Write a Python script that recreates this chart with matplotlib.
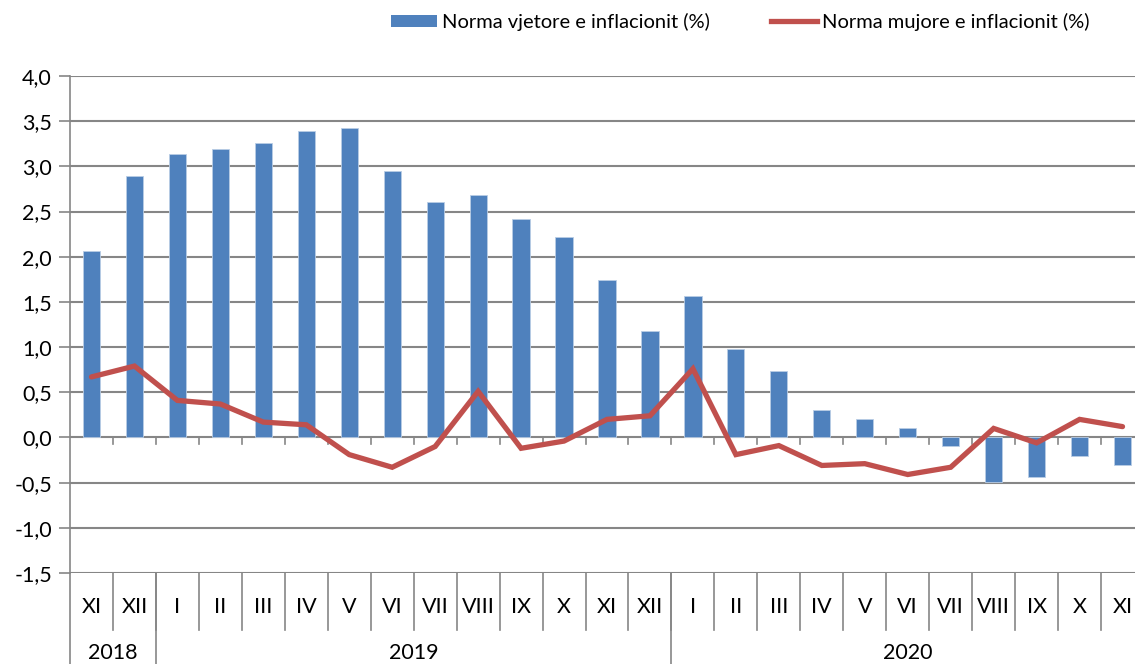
#!/usr/bin/env python3
"""Annual vs monthly inflation rate, XI 2018 - XI 2020."""

import matplotlib

matplotlib.use("Agg")
import matplotlib.pyplot as plt
import numpy as np
from matplotlib.lines import Line2D
from matplotlib.patches import Patch
from matplotlib.ticker import FuncFormatter

months = ["XI", "XII", "I", "II", "III", "IV", "V", "VI", "VII", "VIII", "IX", "X", "XI",
          "XII", "I", "II", "III", "IV", "V", "VI", "VII", "VIII", "IX", "X", "XI"]
years = ["2018", "2019", "2020"]
year_counts = [2, 12, 11]

annual = [2.06, 2.89, 3.14, 3.19, 3.26, 3.39, 3.43, 2.95, 2.61, 2.68, 2.42, 2.22, 1.74,
          1.18, 1.56, 0.98, 0.74, 0.30, 0.20, 0.11, -0.10, -0.49, -0.44, -0.20, -0.30]
monthly = [0.67, 0.79, 0.41, 0.37, 0.17, 0.14, -0.19, -0.33, -0.10, 0.51, -0.12, -0.04, 0.20,
           0.24, 0.76, -0.19, -0.09, -0.31, -0.29, -0.41, -0.33, 0.10, -0.06, 0.20, 0.12]

BLUE = "#4F81BD"
RED = "#C0504D"
GRID = "#868686"

plt.rcParams["font.family"] = ["Lato", "DejaVu Sans"]

W, H = 1135, 664
fig = plt.figure(figsize=(W / 100, H / 100), dpi=100)
# plot area runs slightly past the right edge, as in the source chart
ax_left, ax_right, ax_top, ax_bot = 70, 1144, 76, 573
ax = fig.add_axes([ax_left / W, 1 - ax_bot / H, (ax_right - ax_left) / W, (ax_bot - ax_top) / H])

x = np.arange(len(months))
ax.bar(x, annual, width=0.4, color=BLUE, edgecolor="#B9CDE5", linewidth=0.6, zorder=3)
ax.plot(x, monthly, color=RED, linewidth=3.8, solid_capstyle="round",
        solid_joinstyle="miter", zorder=4)

ax.set_xlim(-0.5, len(months) - 0.5)
ax.set_ylim(-1.5, 4.0)
ax.set_yticks(np.arange(-1.5, 4.01, 0.5))
ax.yaxis.set_major_formatter(FuncFormatter(lambda v, _: f"{v:.1f}".replace(".", ",")))
ax.tick_params(axis="y", labelsize=15.5, length=8, width=1.2, color=GRID, pad=5)
ax.set_xticks([])
ax.grid(axis="y", color=GRID, linewidth=1.5, zorder=0)
for side in ["top", "right", "bottom"]:
    ax.spines[side].set_visible(False)
ax.spines["left"].set_color(GRID)
ax.spines["left"].set_linewidth(1.2)

# tick marks on the zero line at category boundaries
tr = ax.get_xaxis_transform()
ah = ax_bot - ax_top
zero_ax = (0 - (-1.5)) / 5.5
tick_len = 7 / ah
bounds = np.arange(-0.5, len(months), 1.0)[1:]
for b in bounds:
    ax.plot([b, b], [zero_ax, zero_ax - tick_len], color=GRID, linewidth=1.2,
            transform=tr, zorder=2, clip_on=False)

# category labels below the plot
month_y = -(607 - ax_bot) / ah
year_y = -(653 - ax_bot) / ah
sep_short = -(630 - ax_bot) / ah
sep_long = -(H - ax_bot) / ah
for i, m in enumerate(months):
    ax.text(i, month_y, m, transform=tr, ha="center", va="center", fontsize=15.5)
for b in bounds:
    ax.plot([b, b], [0, sep_short], color=GRID, linewidth=1.2, transform=tr, clip_on=False)

start = 0
ax.plot([-0.5, -0.5], [0, sep_long], color=GRID, linewidth=1.2, transform=tr, clip_on=False)
for yr, n in zip(years, year_counts):
    center = start + (n - 1) / 2
    ax.text(center, year_y, yr, transform=tr, ha="center", va="center", fontsize=15.5)
    end = start + n - 0.5
    if end < len(months) - 0.5:
        ax.plot([end, end], [0, sep_long], color=GRID, linewidth=1.2, transform=tr,
                clip_on=False)
    start += n

handles = [Patch(facecolor=BLUE, edgecolor="none"),
           Line2D([0], [0], color=RED, linewidth=3.8)]
labels = ["Norma vjetore e inflacionit (%)", "Norma mujore e inflacionit (%)"]
fig.legend(handles, labels, loc="center left", bbox_to_anchor=(391 / W, 1 - 22 / H),
           ncol=2, frameon=False, fontsize=14.5, handlelength=2.3, handleheight=0.6,
           handletextpad=0.25, columnspacing=3.0, borderaxespad=0, borderpad=0)

fig.savefig("out.png", dpi=100)
